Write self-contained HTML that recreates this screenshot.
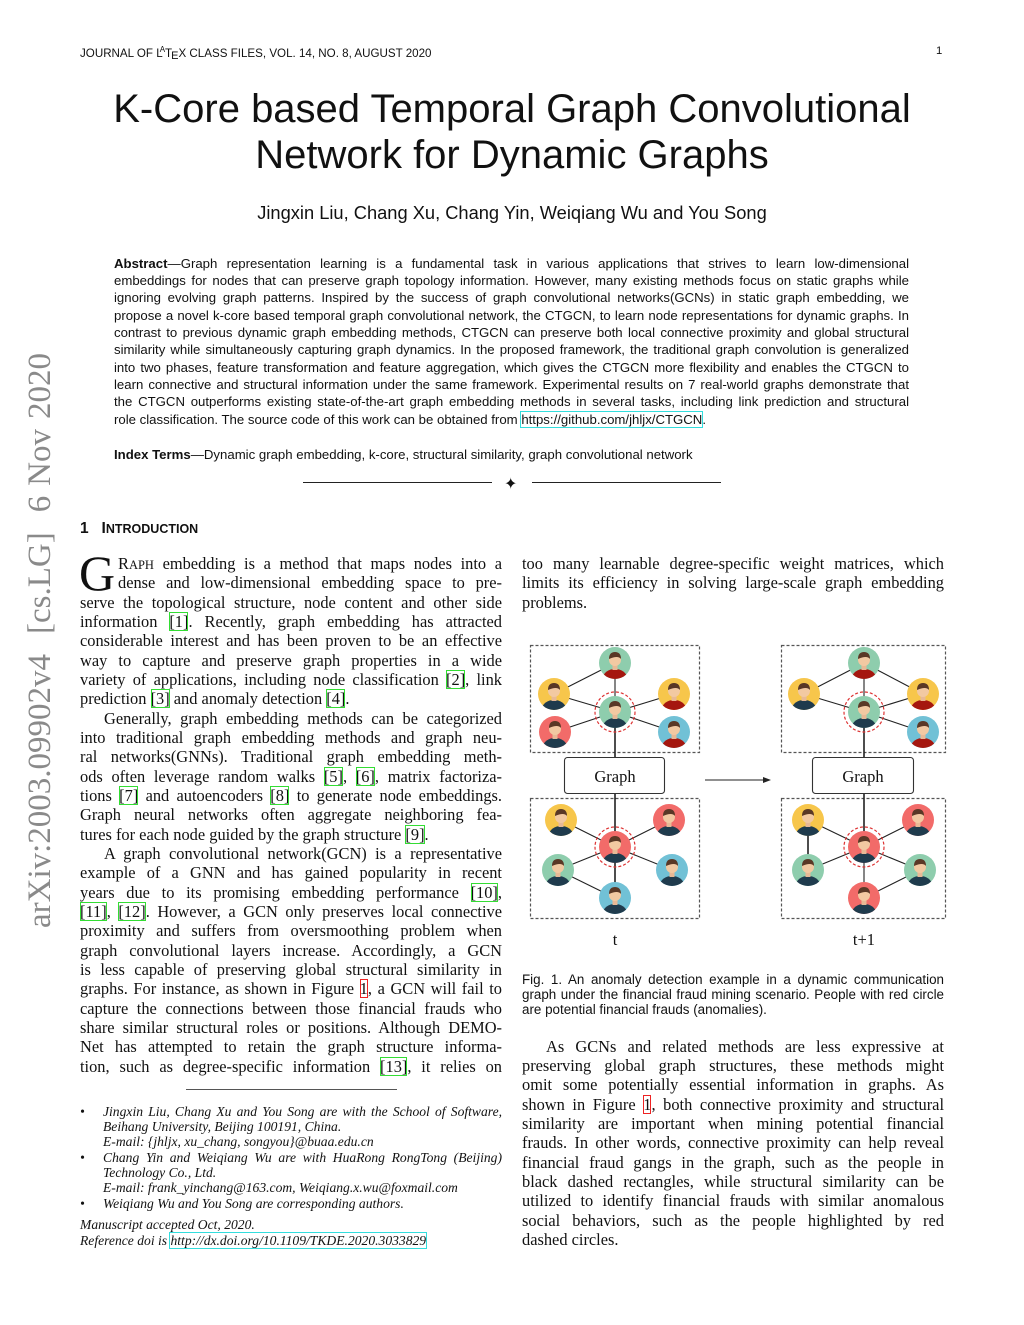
<!DOCTYPE html>
<html><head><meta charset="utf-8">
<style>
body{margin:0;background:#fff;}
#pg{position:relative;width:1024px;height:1325px;overflow:hidden;background:#fff;color:#111;}
.a{position:absolute;white-space:nowrap;}
.j{position:absolute;white-space:nowrap;text-align:justify;text-align-last:justify;overflow:visible;}
.s{font-family:"Liberation Sans",sans-serif;}
.r{font-family:"Liberation Serif",serif;font-size:16.4px;line-height:20px;height:20px;}
.ab{font-family:"Liberation Sans",sans-serif;font-size:13.2px;line-height:16px;height:16px;left:114px;width:795px;}
.L{left:80px;width:422px;}
.R{left:522px;width:422px;}
.c{outline:1px solid #3d3;outline-offset:-1px;}
.f{outline:1px solid #e22;outline-offset:-1px;}
.u{outline:1.5px solid #3dd;outline-offset:0;}
.fn{font-family:"Liberation Serif",serif;font-style:italic;font-size:13.6px;line-height:15px;height:15px;}
.cap{font-family:"Liberation Sans",sans-serif;font-size:13.4px;line-height:15px;height:15px;left:522px;width:422px;}
</style></head><body><div id="pg">

<div class="a s" style="left:80px;top:45px;font-size:11.6px;">JOURNAL OF L<sup style="font-size:8px;margin-left:-3px;">A</sup>T<sub style="font-size:11px;vertical-align:-2px;margin-left:-1px;">E</sub>X CLASS FILES, VOL. 14, NO. 8, AUGUST 2020</div>
<div class="a s" style="left:936px;top:45px;font-size:11.3px;">1</div>

<div class="a s" style="left:0;width:1024px;text-align:center;top:86px;font-size:40px;line-height:46px;">K-Core based Temporal Graph Convolutional<br>Network for Dynamic Graphs</div>
<div class="a s" style="left:0;width:1024px;text-align:center;top:202px;font-size:18.3px;">Jingxin Liu, Chang Xu, Chang Yin, Weiqiang Wu and You Song</div>

<div class="j ab" style="top:256px"><b>Abstract</b>—Graph representation learning is a fundamental task in various applications that strives to learn low-dimensional</div>
<div class="j ab" style="top:273px">embeddings for nodes that can preserve graph topology information. However, many existing methods focus on static graphs while</div>
<div class="j ab" style="top:290px">ignoring evolving graph patterns. Inspired by the success of graph convolutional networks(GCNs) in static graph embedding, we</div>
<div class="j ab" style="top:308px">propose a novel k-core based temporal graph convolutional network, the CTGCN, to learn node representations for dynamic graphs. In</div>
<div class="j ab" style="top:325px">contrast to previous dynamic graph embedding methods, CTGCN can preserve both local connective proximity and global structural</div>
<div class="j ab" style="top:342px">similarity while simultaneously capturing graph dynamics. In the proposed framework, the traditional graph convolution is generalized</div>
<div class="j ab" style="top:360px">into two phases, feature transformation and feature aggregation, which gives the CTGCN more flexibility and enables the CTGCN to</div>
<div class="j ab" style="top:377px">learn connective and structural information under the same framework. Experimental results on 7 real-world graphs demonstrate that</div>
<div class="j ab" style="top:394px">the CTGCN outperforms existing state-of-the-art graph embedding methods in several tasks, including link prediction and structural</div>
<div class="a ab" style="top:412px">role classification. The source code of this work can be obtained from <span class="u">https://github.com/jhljx/CTGCN</span>.</div>
<div class="a ab" style="top:447px"><b>Index Terms</b>—Dynamic graph embedding, k-core, structural similarity, graph convolutional network</div>

<div class="a" style="left:303px;top:482px;width:189px;border-top:1px solid #222;"></div>
<div class="a" style="left:532px;top:482px;width:189px;border-top:1px solid #222;"></div>
<div class="a" style="left:504px;top:474px;font-size:16px;font-family:'DejaVu Sans',sans-serif;">✦</div>

<div class="a s" style="left:80px;top:520px;font-size:15.5px;font-weight:bold;">1&nbsp;&nbsp;&nbsp;I<span style="font-size:12.5px">NTRODUCTION</span></div>

<div class="a" style="left:22px;top:928px;transform:rotate(-90deg);transform-origin:0 0;font-family:'Liberation Serif',serif;font-size:33px;color:#8a8a8a;width:575px;text-align:justify;text-align-last:justify;white-space:nowrap;line-height:36px;">arXiv:2003.09902v4&nbsp;&nbsp;[cs.LG]&nbsp;&nbsp;6 Nov 2020</div>

<div class="a" style="left:79px;top:548px;font-family:'Liberation Serif',serif;font-size:50px;line-height:50px;">G</div>
<div class="j r" style="left:118px;width:384px;top:554px">R<span style="font-size:12.5px">APH</span> embedding is a method that maps nodes into a</div>
<div class="j r" style="left:118px;width:384px;top:573px">dense and low-dimensional embedding space to pre-</div>
<div class="j r L" style="top:593px">serve the topological structure, node content and other side</div>
<div class="j r L" style="top:612px">information <span class="c">[1]</span>. Recently, graph embedding has attracted</div>
<div class="j r L" style="top:631px">considerable interest and has been proven to be an effective</div>
<div class="j r L" style="top:651px">way to capture and preserve graph properties in a wide</div>
<div class="j r L" style="top:670px">variety of applications, including node classification <span class="c">[2]</span>, link</div>
<div class="a r L" style="top:689px">prediction <span class="c">[3]</span> and anomaly detection <span class="c">[4]</span>.</div>
<div class="j r" style="left:104px;width:398px;top:709px">Generally, graph embedding methods can be categorized</div>
<div class="j r L" style="top:728px">into traditional graph embedding methods and graph neu-</div>
<div class="j r L" style="top:747px">ral networks(GNNs). Traditional graph embedding meth-</div>
<div class="j r L" style="top:767px">ods often leverage random walks <span class="c">[5]</span>, <span class="c">[6]</span>, matrix factoriza-</div>
<div class="j r L" style="top:786px">tions <span class="c">[7]</span> and autoencoders <span class="c">[8]</span> to generate node embeddings.</div>
<div class="j r L" style="top:805px">Graph neural networks often aggregate neighboring fea-</div>
<div class="a r L" style="top:825px">tures for each node guided by the graph structure <span class="c">[9]</span>.</div>
<div class="j r" style="left:104px;width:398px;top:844px">A graph convolutional network(GCN) is a representative</div>
<div class="j r L" style="top:863px">example of a GNN and has gained popularity in recent</div>
<div class="j r L" style="top:883px">years due to its promising embedding performance <span class="c">[10]</span>,</div>
<div class="j r L" style="top:902px"><span class="c">[11]</span>, <span class="c">[12]</span>. However, a GCN only preserves local connective</div>
<div class="j r L" style="top:921px">proximity and suffers from oversmoothing problem when</div>
<div class="j r L" style="top:941px">graph convolutional layers increase. Accordingly, a GCN</div>
<div class="j r L" style="top:960px">is less capable of preserving global structural similarity in</div>
<div class="j r L" style="top:979px">graphs. For instance, as shown in Figure <span class="f">1</span>, a GCN will fail to</div>
<div class="j r L" style="top:999px">capture the connections between those financial frauds who</div>
<div class="j r L" style="top:1018px">share similar structural roles or positions. Although DEMO-</div>
<div class="j r L" style="top:1037px">Net has attempted to retain the graph structure informa-</div>
<div class="j r L" style="top:1057px">tion, such as degree-specific information <span class="c">[13]</span>, it relies on</div>

<div class="a" style="left:186px;top:1089px;width:211px;border-top:1px solid #555;"></div>
<div class="a fn" style="left:80px;top:1104px">•</div>
<div class="j fn" style="left:103px;width:399px;top:1104px">Jingxin Liu, Chang Xu and You Song are with the School of Software,</div>
<div class="a fn" style="left:103px;top:1119px">Beihang University, Beijing 100191, China.</div>
<div class="a fn" style="left:103px;top:1134px">E-mail: {jhljx, xu_chang, songyou}@buaa.edu.cn</div>
<div class="a fn" style="left:80px;top:1150px">•</div>
<div class="j fn" style="left:103px;width:399px;top:1150px">Chang Yin and Weiqiang Wu are with HuaRong RongTong (Beijing)</div>
<div class="a fn" style="left:103px;top:1165px">Technology Co., Ltd.</div>
<div class="a fn" style="left:103px;top:1180px">E-mail: frank_yinchang@163.com, Weiqiang.x.wu@foxmail.com</div>
<div class="a fn" style="left:80px;top:1196px">•</div>
<div class="a fn" style="left:103px;top:1196px">Weiqiang Wu and You Song are corresponding authors.</div>
<div class="a fn" style="left:80px;top:1217px">Manuscript accepted Oct, 2020.</div>
<div class="a fn" style="left:80px;top:1233px">Reference doi is <span class="u">http://dx.doi.org/10.1109/TKDE.2020.3033829</span></div>

<div class="j r R" style="top:554px">too many learnable degree-specific weight matrices, which</div>
<div class="j r R" style="top:573px">limits its efficiency in solving large-scale graph embedding</div>
<div class="a r R" style="top:593px">problems.</div>

<svg class="a" style="left:0;top:0" width="1024" height="1325" viewBox="0 0 1024 1325">
<defs>
<clipPath id="cc"><circle r="16"/></clipPath>
<g id="p" clip-path="url(#cc)"><ellipse cx="0" cy="15" rx="12" ry="9" fill="#1f3b4d"/><rect x="-2.5" y="2" width="5" height="5" fill="#e8b996"/><circle cy="-3" r="6" fill="#f2c9a2"/><path d="M-6,-4 Q-6,-11 0,-11 Q6,-11 6,-4 Q3,-8 -6,-4Z" fill="#5a3826"/></g>
<g id="q" clip-path="url(#cc)"><ellipse cx="0" cy="15" rx="12" ry="9" fill="#a5170f"/><rect x="-2.5" y="2" width="5" height="5" fill="#e8b996"/><circle cy="-3" r="6" fill="#f2c9a2"/><path d="M-6,-4 Q-6,-11 0,-11 Q6,-11 6,-4 Q3,-8 -6,-4Z" fill="#5a3826"/></g>
</defs>
<g fill="none" stroke="#555" stroke-width="1.2" stroke-dasharray="3,2">
<rect x="530.5" y="645.5" width="169" height="107"/>
<rect x="530.5" y="798.5" width="169" height="120"/>
<rect x="781.5" y="645.5" width="164" height="107"/>
<rect x="781.5" y="798.5" width="164" height="120"/>
</g>
<g stroke="#222" stroke-width="1.1">
<line x1="615" y1="663" x2="554" y2="694"/><line x1="615" y1="663" x2="615" y2="712"/>
<line x1="554" y1="694" x2="615" y2="712"/><line x1="674" y1="694" x2="615" y2="712"/>
<line x1="555" y1="732" x2="615" y2="712"/><line x1="674" y1="732" x2="615" y2="712"/>
<line x1="615" y1="712" x2="615" y2="757" stroke-width="1.6"/><line x1="615" y1="794" x2="615" y2="847" stroke-width="1.6"/>
<line x1="561" y1="820" x2="615" y2="847"/><line x1="669" y1="820" x2="615" y2="847"/>
<line x1="558" y1="870" x2="615" y2="847"/><line x1="672" y1="870" x2="615" y2="847"/>
<line x1="615" y1="847" x2="615" y2="898" stroke-width="1.6"/><line x1="558" y1="870" x2="615" y2="898"/>
<line x1="864" y1="663" x2="804" y2="694"/><line x1="864" y1="663" x2="923" y2="694"/><line x1="864" y1="663" x2="864" y2="712"/>
<line x1="804" y1="694" x2="864" y2="712"/><line x1="923" y1="694" x2="864" y2="712"/><line x1="923" y1="732" x2="864" y2="712"/>
<line x1="864" y1="712" x2="864" y2="757" stroke-width="1.6"/><line x1="864" y1="794" x2="864" y2="847" stroke-width="1.6"/>
<line x1="808" y1="820" x2="808" y2="870" stroke-width="1.6"/><line x1="808" y1="820" x2="864" y2="847"/>
<line x1="918" y1="820" x2="864" y2="847"/><line x1="808" y1="870" x2="864" y2="847"/>
<line x1="920" y1="870" x2="864" y2="847"/><line x1="864" y1="847" x2="864" y2="898"/><line x1="864" y1="898" x2="920" y2="870"/>
<line x1="705" y1="780" x2="765" y2="780"/>
</g>
<path d="M771,780 L763,777 L763,783Z" fill="#222"/>
<g fill="#fff" stroke="#333" stroke-width="1.1">
<rect x="564.5" y="757.5" width="100" height="36" rx="3"/>
<rect x="812.5" y="757.5" width="101" height="36" rx="3"/>
</g>
<g font-family="Liberation Serif,serif" font-size="16.5" fill="#111" text-anchor="middle">
<text x="615" y="782">Graph</text><text x="863" y="782">Graph</text>
<text x="615" y="945">t</text><text x="864" y="945">t+1</text>
</g>
<g fill="none" stroke="#d33" stroke-width="1.2" stroke-dasharray="3,2">
<circle cx="615" cy="712" r="20"/><circle cx="615" cy="847" r="20"/>
<circle cx="864" cy="712" r="20"/><circle cx="864" cy="847" r="20"/>
</g>
<g transform="translate(615,663)"><circle r="16" fill="#8ecdad"/><use href="#q"/></g>
<g transform="translate(554,694)"><circle r="16" fill="#f7c64b"/><use href="#p"/></g>
<g transform="translate(615,712)"><circle r="16" fill="#8ecdad"/><use href="#p"/></g>
<g transform="translate(674,694)"><circle r="16" fill="#f7c64b"/><use href="#q"/></g>
<g transform="translate(555,732)"><circle r="16" fill="#f26b69"/><use href="#p"/></g>
<g transform="translate(674,732)"><circle r="16" fill="#71c1d6"/><use href="#q"/></g>
<g transform="translate(561,820)"><circle r="16" fill="#f7c64b"/><use href="#p"/></g>
<g transform="translate(669,820)"><circle r="16" fill="#f26b69"/><use href="#p"/></g>
<g transform="translate(615,847)"><circle r="16" fill="#f26b69"/><use href="#p"/></g>
<g transform="translate(558,870)"><circle r="16" fill="#8ecdad"/><use href="#p"/></g>
<g transform="translate(672,870)"><circle r="16" fill="#71c1d6"/><use href="#p"/></g>
<g transform="translate(615,898)"><circle r="16" fill="#71c1d6"/><use href="#p"/></g>
<g transform="translate(864,663)"><circle r="16" fill="#8ecdad"/><use href="#q"/></g>
<g transform="translate(804,694)"><circle r="16" fill="#f7c64b"/><use href="#p"/></g>
<g transform="translate(864,712)"><circle r="16" fill="#8ecdad"/><use href="#p"/></g>
<g transform="translate(923,694)"><circle r="16" fill="#f7c64b"/><use href="#q"/></g>
<g transform="translate(923,732)"><circle r="16" fill="#71c1d6"/><use href="#q"/></g>
<g transform="translate(808,820)"><circle r="16" fill="#f7c64b"/><use href="#p"/></g>
<g transform="translate(918,820)"><circle r="16" fill="#f26b69"/><use href="#p"/></g>
<g transform="translate(864,847)"><circle r="16" fill="#f26b69"/><use href="#p"/></g>
<g transform="translate(808,870)"><circle r="16" fill="#8ecdad"/><use href="#p"/></g>
<g transform="translate(920,870)"><circle r="16" fill="#8ecdad"/><use href="#p"/></g>
<g transform="translate(864,898)"><circle r="16" fill="#f26b69"/><use href="#p"/></g>
</svg>

<div class="j cap" style="top:972px">Fig. 1. An anomaly detection example in a dynamic communication</div>
<div class="j cap" style="top:987px">graph under the financial fraud mining scenario. People with red circle</div>
<div class="a cap" style="top:1002px">are potential financial frauds (anomalies).</div>

<div class="j r" style="left:546px;width:398px;top:1037px">As GCNs and related methods are less expressive at</div>
<div class="j r R" style="top:1056px">preserving global graph structures, these methods might</div>
<div class="j r R" style="top:1075px">omit some potentially essential information in graphs. As</div>
<div class="j r R" style="top:1095px">shown in Figure <span class="f">1</span>, both connective proximity and structural</div>
<div class="j r R" style="top:1114px">similarity are important when mining potential financial</div>
<div class="j r R" style="top:1133px">frauds. In other words, connective proximity can help reveal</div>
<div class="j r R" style="top:1153px">financial fraud gangs in the graph, such as the people in</div>
<div class="j r R" style="top:1172px">black dashed rectangles, while structural similarity can be</div>
<div class="j r R" style="top:1191px">utilized to identify financial frauds with similar anomalous</div>
<div class="j r R" style="top:1211px">social behaviors, such as the people highlighted by red</div>
<div class="a r R" style="top:1230px">dashed circles.</div>

</div></body></html>
